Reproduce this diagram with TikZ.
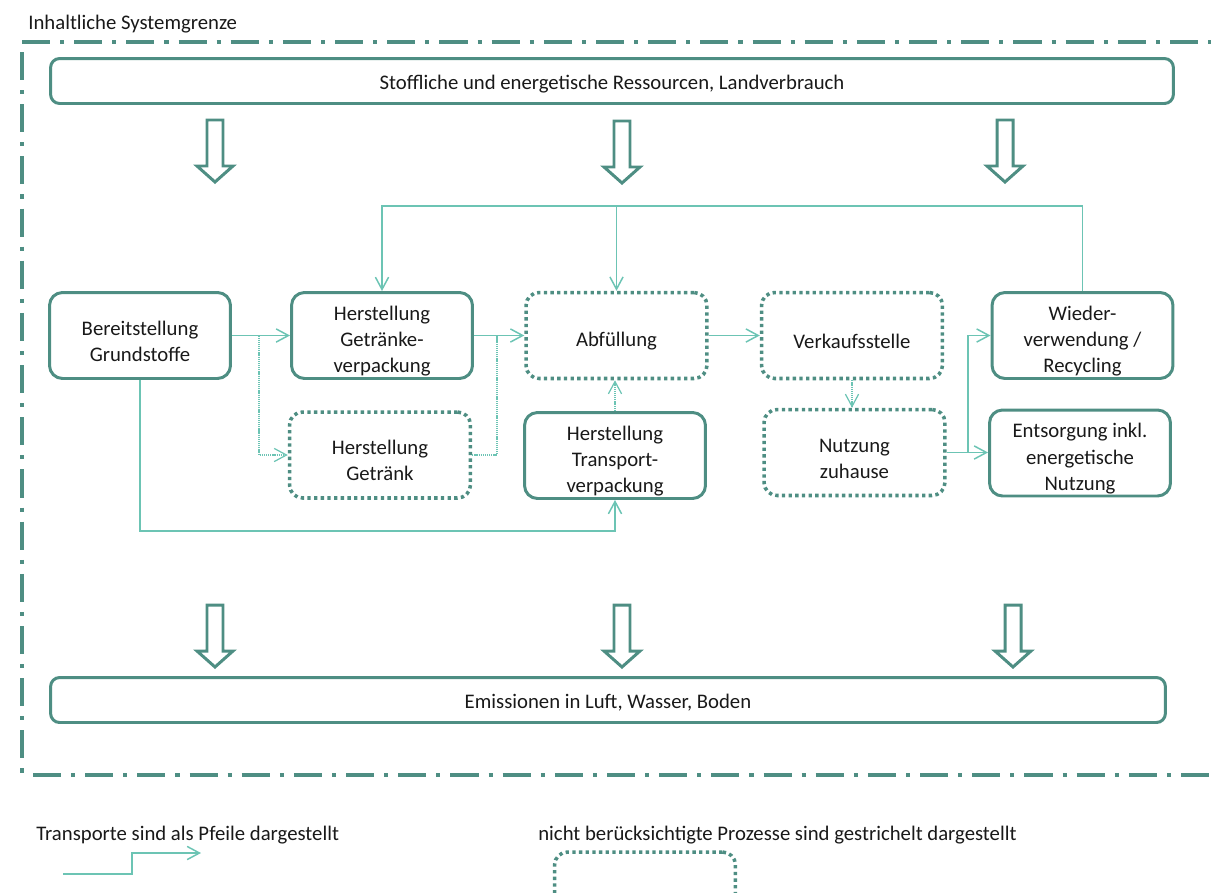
\documentclass[tikz,border=0pt]{standalone}
\usepackage{fontspec}
\setmainfont{Carlito}
\usepackage{tikz}
\usetikzlibrary{arrows.meta}
\usepackage{xcolor}

\definecolor{boxteal}{RGB}{78,142,131}
\definecolor{flowteal}{RGB}{108,196,180}
\definecolor{txtgray}{RGB}{25,25,25}

\tikzset{
    proc/.style={draw=boxteal, line width=1.7pt, rounded corners=0.26cm, minimum width=3.62cm, minimum height=1.72cm, inner ysep=0.5pt, align=center, text height=14.8pt, text=txtgray},
    procdot/.style={proc, line width=2pt, dash pattern=on 1.9pt off 1.9pt},
    twoline/.style={text height=29.6pt},
    threeline/.style={text height=44.6pt},
    bar/.style={draw=boxteal, line width=1.7pt, rounded corners=0.18cm, minimum height=0.9cm, text height=11.7pt, text=txtgray},
    transport/.style={draw=flowteal, line width=0.85pt, -{Straight Barb[length=7pt,width=7.5pt]}},
    transportdot/.style={transport, line width=0.7pt, dash pattern=on 0.7pt off 0.5pt},
    boundary/.style={draw=boxteal, line width=1.8pt, dash pattern=on 16pt off 5.7pt on 2.3pt off 5.7pt},
    flowdown/.pic={\draw[boxteal, line width=1.7pt, fill=white, line join=miter] (-8,0) -- (8,0) -- (8,46) -- (18,46) -- (0,62) -- (-18,46) -- (-8,46) -- cycle;}
}

\begin{document}
\begin{tikzpicture}[x=0.02cm, y=-0.02cm, font=\fontsize{11.8}{15}\selectfont]
            \useasboundingbox (0,0) rectangle (1211,893);
            \clip (0,0) rectangle (1211,893);

            \node[anchor=base west, inner sep=0, text=txtgray] (title) at (28,29) {Inhaltliche Systemgrenze};
            \draw[boundary] (22,42) -- (1211,42);
            \draw[boundary] (22,52) -- (22,775);
            \draw[boundary] (33,775) -- (1211,775);

            \node[bar, minimum width=22.46cm] (res) at (612,81) {Stoffliche und energetische Ressourcen, Landverbrauch};
            \node[bar, minimum width=22.3cm] (emis) at (608,700) {Emissionen in Luft, Wasser, Boden};

            \pic at (215,120) {flowdown};
            \pic at (622,121) {flowdown};
            \pic at (1005,120) {flowdown};
            \pic at (215,605) {flowdown};
            \pic at (622,605) {flowdown};
            \pic at (1013,605) {flowdown};

            \node[proc, twoline] (bereit) at (140,335.5) {Bereitstellung\\Grundstoffe};
            \node[proc, threeline] (getrv) at (382,335.5) {Herstellung\\Getränke-\\verpackung};
            \node[procdot, twoline] (getraenk) at (380,455) {Herstellung\\Getränk};
            \node[procdot] (abf) at (616.5,335.5) {Abfüllung};
            \node[proc, threeline] (transp) at (615,455.5) {Herstellung\\Transport-\\verpackung};
            \node[procdot] (verk) at (852,335.5) {Verkaufsstelle};
            \node[procdot, twoline] (nutz) at (854.5,452.5) {Nutzung\\zuhause};
            \node[proc, threeline] (wieder) at (1082.5,335.5) {Wieder-\\verwendung /\\Recycling};
            \node[proc, threeline] (entsorg) at (1080,453) {Entsorgung inkl.\\energetische\\Nutzung};

            \coordinate (split1) at (259,335.5);
            \coordinate (join1) at (497,335.5);
            \coordinate (split2) at (968,452.5);
            \coordinate (loop) at (1082,206);
            \coordinate (bottomrun) at (400,531);

            \draw[transport] (bereit.east) -- (getrv.west);
            \draw[transportdot] (split1) |- (getraenk.west);
            \draw[transport] (getrv.east) -- (abf.west);
            \draw[transportdot, -] (getraenk.east) -| (join1);
            \draw[transportdot] (transp.north) -- (transp.north |- abf.south);
            \draw[transport] (abf.east) -- (verk.west);
            \draw[transportdot] (verk.south) -- (verk.south |- nutz.north);
            \draw[transport] (nutz.east) -- (nutz.east -| entsorg.west);
            \draw[transport] (split2) |- (wieder.west);
            \draw[transport] (wieder.north) -- (wieder.north |- loop) -| (getrv.north);
            \draw[transport] (abf.north |- loop) -- (abf.north);
            \draw[transport] (bereit.south) -- (bereit.south |- bottomrun) -| (transp.south);

            \node[anchor=base west, inner sep=0, text=txtgray] (legtrans) at (36,840) {Transporte sind als Pfeile dargestellt};
            \coordinate (legstart) at (63,874);
            \coordinate (legtip) at (201,853);
            \draw[transport] (legstart) -- (132,874) |- (legtip);
            \node[anchor=base west, inner sep=0, text=txtgray] (legdot) at (538,840) {nicht berücksichtigte Prozesse sind gestrichelt dargestellt};
            \node[procdot, text height=0pt] (legbox) at (645,895) {};
\end{tikzpicture}
\end{document}
